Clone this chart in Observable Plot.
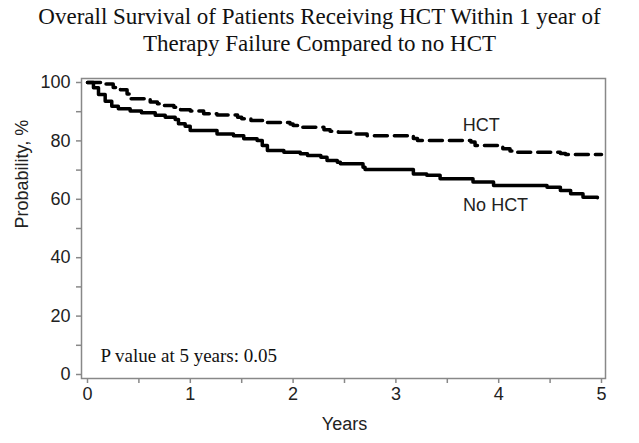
<!DOCTYPE html>
<html>
<head>
<meta charset="utf-8">
<script src="https://cdn.jsdelivr.net/npm/d3@7"></script>
<script src="https://cdn.jsdelivr.net/npm/@observablehq/plot@0.6"></script>
<style>
  body { margin: 0; background: #fff; width: 639px; height: 443px; overflow: hidden; }
  #title { box-sizing: border-box; height: 60px; padding-top: 3px; text-align: center;
    font-family: "Liberation Serif", "Times New Roman", serif; font-size: 23px; line-height: 27px; color: #111; }
  svg { display: block; }
</style>
</head>
<body>
<div id="title">Overall Survival of Patients Receiving HCT Within 1 year of<br>Therapy Failure Compared to no HCT</div>
<div id="chart"></div>
<script>
// Data (years, survival %)
const noHctYears = [0, 0.058, 0.107, 0.172, 0.236, 0.30, 0.415, 0.525, 0.659, 0.756, 0.853, 0.885, 0.95, 0.999, 1.26, 1.42, 1.52, 1.65, 1.70, 1.75, 1.91, 2.07, 2.14, 2.27, 2.33, 2.43, 2.46, 2.68, 2.70, 3.17, 3.30, 3.43, 3.75, 3.95, 4.47, 4.60, 4.70, 4.82, 4.96];
const noHctSurv  = [100, 98.2, 95.9, 93.6, 91.9, 91.0, 90.2, 89.6, 88.8, 88.1, 87.3, 85.9, 85.0, 83.6, 82.4, 81.8, 80.7, 80.1, 78.4, 76.7, 76.1, 75.6, 75.0, 74.4, 73.3, 72.7, 72.2, 71.0, 70.2, 68.7, 68.2, 67.0, 65.9, 64.7, 64.1, 63.0, 61.9, 60.7, 60.5];
const hctYears = [0, 0.16, 0.25, 0.32, 0.385, 0.42, 0.61, 0.68, 0.74, 0.84, 0.905, 1.0, 1.13, 1.26, 1.46, 1.50, 1.59, 1.75, 1.97, 2.00, 2.07, 2.30, 2.36, 2.44, 2.61, 2.72, 3.17, 3.21, 3.73, 3.77, 3.99, 4.04, 4.11, 4.18, 4.60, 4.65, 5.0];
const hctSurv  = [100, 99.5, 98.3, 97.5, 96.1, 94.4, 93.3, 92.7, 92.1, 91.5, 90.7, 90.2, 89.3, 88.9, 88.1, 87.6, 87.0, 86.3, 85.8, 85.3, 84.7, 83.8, 83.3, 83.0, 82.4, 81.8, 80.8, 80.1, 79.6, 78.4, 77.9, 77.3, 76.5, 76.1, 75.7, 75.3, 75.3];

const xTicks = [0, 1, 2, 3, 4, 5];
const xMinorTicks = [0.5, 1.5, 2.5, 3.5, 4.5];
const yTicks = [0, 20, 40, 60, 80, 100];
const yMinorTicks = [10, 30, 50, 70, 90];

const curveLabels = [
  {year: 3.83, surv: 85.3, text: "HCT"},
  {year: 3.97, surv: 57.9, text: "No HCT"}
];
const pValueNote = [{year: 0.126, surv: 6.2, text: "P value at 5 years: 0.05"}];

const noHct = noHctYears.map((t, i) => ({year: t, surv: noHctSurv[i]}));
const hct = hctYears.map((t, i) => ({year: t, surv: hctSurv[i]}));

const sans = "'Liberation Sans', Arial, sans-serif";
const serif = "'Liberation Serif', 'Times New Roman', serif";
const axisCol = "#888";

const chart = Plot.plot({
  width: 639,
  height: 383,
  marginTop: 22,
  marginBottom: 69,
  marginLeft: 87,
  marginRight: 38,
  style: {fontFamily: sans, fontSize: "18px", color: "#222", background: "#fff"},
  x: {domain: [0, 5]},
  y: {domain: [0, 100]},
  marks: [
    Plot.frame({stroke: axisCol, strokeWidth: 1.5, insetLeft: -6, insetRight: -4, insetTop: -4, insetBottom: -4}),
    Plot.axisY(yTicks, {anchor: "left", tickSize: 5, tickPadding: 6, dx: -6, stroke: axisCol, strokeWidth: 1.5, fill: "#222", fontSize: 18, label: null}),
    Plot.axisY(yMinorTicks, {anchor: "left", tickSize: 5, dx: -6, stroke: axisCol, strokeWidth: 1.5, text: null, label: null}),
    Plot.axisX(xTicks, {anchor: "bottom", tickSize: 5, tickPadding: 4, dy: 4, stroke: axisCol, strokeWidth: 1.5, fill: "#222", fontSize: 18, label: null}),
    Plot.axisX(xMinorTicks, {anchor: "bottom", tickSize: 5, dy: 4, stroke: axisCol, strokeWidth: 1.5, text: null, label: null}),
    Plot.text(["Years"], {frameAnchor: "bottom", dy: 50, lineAnchor: "middle", fontSize: 18, fill: "#222"}),
    Plot.text(["Probability, %"], {frameAnchor: "left", dx: -65, rotate: -90, lineAnchor: "middle", fontSize: 18, fill: "#222"}),
    Plot.line(hct, {x: "year", y: "surv", curve: "step-after", stroke: "#000", strokeWidth: 3.5, strokeDasharray: "13,7"}),
    Plot.line(noHct, {x: "year", y: "surv", curve: "step-after", stroke: "#000", strokeWidth: 3.5}),
    Plot.text(curveLabels, {x: "year", y: "surv", text: "text", fontSize: 18, fill: "#222"}),
    Plot.text(pValueNote, {x: "year", y: "surv", text: "text", textAnchor: "start", fontSize: 19, fontFamily: serif, fill: "#111"})
  ]
});
document.getElementById("chart").appendChild(chart);
</script>
</body>
</html>
